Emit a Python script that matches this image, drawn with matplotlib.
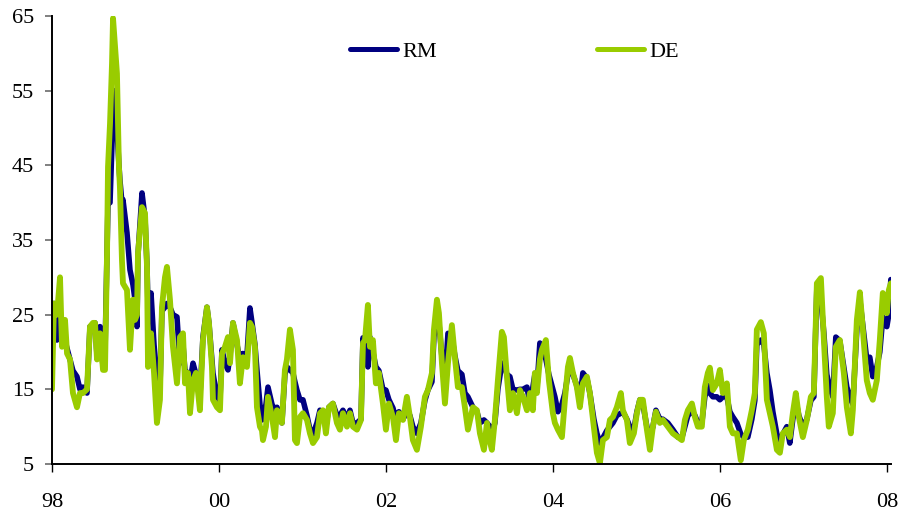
import matplotlib
matplotlib.use("Agg")
import matplotlib.pyplot as plt

plt.rcParams['font.family'] = ['Liberation Serif', 'DejaVu Serif']

# time (decimal years) at which both series were read
years_offset = [
 0.000,0.024,0.060,0.096,0.120,0.156,0.180,0.216,0.251,0.299,0.335,0.371,0.419,0.455,0.491,0.515,0.539,0.575,0.611,0.635,
 0.659,0.671,0.695,0.719,0.731,0.754,0.778,0.802,0.814,0.838,0.850,0.898,0.934,0.970,0.994,1.018,1.030,1.078,1.114,1.138,
 1.150,1.186,1.222,1.257,1.293,1.317,1.353,1.377,1.413,1.449,1.497,1.533,1.569,1.593,1.629,1.653,1.689,1.725,1.772,1.808,
 1.856,1.880,1.916,1.928,1.976,2.012,2.036,2.072,2.108,2.132,2.168,2.216,2.251,2.287,2.335,2.371,2.395,2.431,2.455,2.491,
 2.515,2.527,2.563,2.587,2.635,2.671,2.695,2.754,2.790,2.814,2.850,2.886,2.910,2.934,2.970,3.006,3.054,3.090,3.126,3.174,
 3.210,3.246,3.281,3.317,3.365,3.413,3.449,3.485,3.533,3.569,3.605,3.653,3.701,3.725,3.749,3.784,3.808,3.844,3.880,3.916,
 3.964,4.000,4.036,4.084,4.120,4.156,4.204,4.251,4.287,4.323,4.371,4.419,4.467,4.503,4.551,4.575,4.611,4.635,4.671,4.707,
 4.743,4.790,4.826,4.862,4.910,4.946,4.982,5.042,5.090,5.126,5.174,5.210,5.246,5.269,5.305,5.341,5.389,5.413,5.449,5.485,
 5.521,5.569,5.605,5.641,5.689,5.725,5.760,5.784,5.808,5.844,5.868,5.916,5.952,6.000,6.024,6.060,6.108,6.144,6.180,6.204,
 6.240,6.287,6.323,6.359,6.407,6.443,6.491,6.527,6.563,6.599,6.647,6.683,6.719,6.766,6.814,6.838,6.886,6.922,6.970,7.006,
 7.042,7.078,7.126,7.162,7.198,7.234,7.281,7.317,7.377,7.437,7.497,7.545,7.581,7.617,7.665,7.701,7.737,7.784,7.820,7.856,
 7.880,7.916,7.964,8.000,8.036,8.084,8.120,8.156,8.204,8.251,8.287,8.335,8.383,8.419,8.443,8.491,8.527,8.563,8.599,8.635,
 8.683,8.719,8.754,8.802,8.838,8.874,8.910,8.946,8.994,9.042,9.090,9.126,9.162,9.210,9.246,9.281,9.305,9.353,9.389,9.437,
 9.485,9.521,9.569,9.593,9.641,9.677,9.713,9.760,9.796,9.832,9.880,9.916,9.952,10.000,10.024,10.048]
dates = [1998 + t for t in years_offset]

de = [
 15,26.5,25,30,20.7,24.3,19.8,19,14.5,12.6,14.5,14.5,15,23.4,23.9,23.9,19,22.5,17.6,17.6,
 33,44.8,50.6,58.7,64.7,61,57.3,44.8,42,32.3,29.2,28.3,20.3,27,24.3,25,33.2,39.4,38.6,31.4,
 18,22.5,17.2,10.5,13.6,26,30,31.4,27,20.7,15.8,22,22.5,15.8,17.2,11.8,16.2,17.2,12.2,21.6,
 26,23.9,18,13.6,12.6,12.2,19.8,20.7,22,18.5,23.9,21.6,15.8,19.3,18,23.9,23.4,20.7,12.6,10,
 9.5,8.2,10,14,11.3,8.6,12.2,10.5,17.6,19,23,20.3,8.2,7.8,11.3,11.8,10.9,9.1,7.8,8.6,
 11.8,12.2,9.1,12.6,13.1,10.5,9.6,11.8,10,11.8,10,9.6,10.9,21.2,21.6,26.3,20.7,21.6,15.8,17.2,
 13.1,9.6,13.1,11.3,8.2,11.8,10.9,14,11.3,8.2,6.9,10,14,14.9,17.2,23,27,25.2,18.5,13.1,
 18.5,23.6,19.3,15.3,15.3,12.6,9.6,12.6,12.2,9.1,6.9,10.5,8,6.9,10.9,16.2,22.7,22,16.7,12.2,
 14.5,11.8,14.9,14,12.2,14.5,12.2,17.2,14.5,19,20.3,21.6,16.2,11.8,10.5,9.6,8.6,13.6,18,19.2,
 17.2,15.3,12.6,15.8,16.7,14.5,10,6.5,5.1,8.2,8.6,10.9,11.3,12.6,14.5,12.2,10.9,7.8,9.1,11.8,
 13.6,13.6,9.6,6.9,10,12,10.5,10.9,10,9.1,8.6,8.2,10.9,12.2,13.1,11.3,10,10,15.3,17.2,
 17.9,14.9,15.8,17.6,14.5,15.8,10,9.1,9.1,5.5,8.2,9.6,12.2,14.5,23,24,22.5,13.6,11.8,10,
 6.9,6.5,9.1,9.6,8.6,11.8,14.5,11.3,8.6,10.9,14,14.5,29.2,29.9,21.6,14,10,11.8,20.7,21.6,
 17.2,12.6,9.1,12.2,24.3,28,23,16.2,14.5,13.6,16.2,21.6,27.9,25.2,28.3,29.2]

rm = [
 25,26.5,21.6,24.5,21,21.5,20.5,19,17.5,16.7,15,15.3,14.5,23.4,23.5,23.9,19.5,23.4,18,20,
 33,40,40,48,55,55,50,45,43,40,40.4,36,31,29,27,23.4,33,41.3,38,31.5,
 26,27.9,21,16.5,15,25.5,26,26.5,26,25,24.7,18.5,21,17.5,17.2,16,18.5,17,14,22,
 26,23.9,19,17.2,14,13.5,20.3,18.5,17.6,19.5,23.9,21,19,19.8,19.5,25.9,24,21,17.6,13,
 10.9,11,13,15.3,13,12.2,12.6,10.5,17,18,17.6,17.2,16,14.9,13.6,13.6,11.5,9.6,9,10.5,
 12.2,12,10,12.6,13.1,11.5,11.5,12.2,11,12.2,10.5,10.5,11,21.9,21,18,22,20,18,17.5,
 15,14.9,13.6,12.5,11,12,11,12,11.5,10,9.1,10.5,13.5,14.9,16,22,25,23.9,19.3,16,
 22.5,22,19.5,17.5,17,14.5,14,12.6,12,10.5,10.9,10.5,10,9,10.5,15,18.5,18.5,17,16.7,
 15,14.9,15,15,15.3,13.1,15.3,17,15,21.2,20.5,19,17,15,14,12,13,14.5,17,18.5,
 17,15.5,13.5,17.2,16.5,14.5,11,9.1,7.8,8.5,9.5,10,10.5,11.5,11.8,12,11,10,9.6,12,
 13.6,13,10,8.6,10,12.2,11,11,10.5,9.6,8.6,8.5,10,11.5,12,11.5,10.5,10.5,14,15.5,
 14.5,14,14,13.6,14,14,12,11.3,10.5,9,8.6,8.6,11,13.5,21,21.6,21,17.2,14.9,12,
 9,8.2,9,10,7.8,11,13.5,11.5,10,11,13.5,14,28.7,27,22.5,17,15.8,14,22,21.5,
 18,15.3,13.6,13,23,27,23.5,19,19.3,16.7,18,20,24.7,23.4,25,29.7]

series_names = ['RM', 'DE']
series_colors = ['#000080', '#99CC00']
y_ticks = [5, 15, 25, 35, 45, 55, 65]
x_ticks = [1998, 2000, 2002, 2004, 2006, 2008]
x_labels = ['98', '00', '02', '04', '06', '08']

fig = plt.figure(figsize=(9.02, 5.18), dpi=100)
ax = fig.add_axes([52/902, 54/518, 839/902, 448/518])

ax.plot(dates, rm, color=series_colors[0], lw=4.0, solid_capstyle='round',
        solid_joinstyle='round', label=series_names[0])
ax.plot(dates, de, color=series_colors[1], lw=4.2, solid_capstyle='round',
        solid_joinstyle='round', label=series_names[1])

ax.set_xlim(1998, 2008.05)
ax.set_ylim(5, 65)
ax.set_yticks(y_ticks)
ax.set_xticks(x_ticks)
ax.set_xticklabels(x_labels)

for s in ['top', 'right']:
    ax.spines[s].set_visible(False)
for s in ['left', 'bottom']:
    ax.spines[s].set_linewidth(1.4)
    ax.spines[s].set_color('black')

ax.tick_params(axis='y', direction='out', length=5, width=1.4, color='#808080',
               labelsize=16, pad=8)
ax.tick_params(axis='x', direction='out', length=6, width=1.0, color='black',
               labelsize=16, pad=15)

leg = fig.legend(loc='center left', bbox_to_anchor=(350/902, 1 - 52/518),
                 ncol=2, frameon=False, fontsize=16, handlelength=2.1,
                 handletextpad=0.25, columnspacing=7.2, borderpad=0,
                 borderaxespad=0)
for line in leg.get_lines():
    line.set_linewidth(3.6)
    line.set_solid_capstyle('round')

fig.savefig('out.png', dpi=100)
